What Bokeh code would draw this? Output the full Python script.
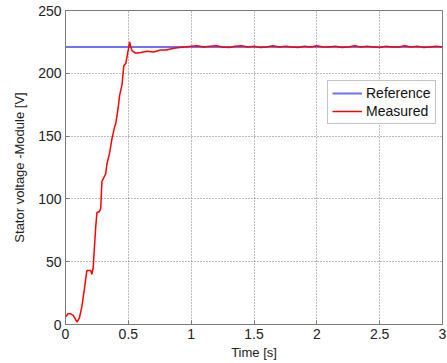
from bokeh.plotting import figure
from bokeh.models import Range1d, Legend, LegendItem, FixedTicker
from bokeh.embed import file_html
from bokeh.resources import INLINE

# Data
ref_t = [0.0, 3.0]
ref_v = [221, 221]

meas_t = [0.0, 0.02, 0.04, 0.06, 0.08, 0.093, 0.11, 0.13, 0.15, 0.17, 0.2, 0.21, 0.22, 0.24, 0.25,
          0.27, 0.28, 0.29, 0.305, 0.32, 0.33, 0.35, 0.37, 0.39, 0.4, 0.42, 0.43, 0.45, 0.464, 0.48,
          0.5, 0.51, 0.52, 0.53, 0.557, 0.6, 0.65, 0.7, 0.756, 0.8, 0.86, 0.91, 0.95,
          1.0, 1.05, 1.1, 1.15, 1.2, 1.25, 1.3, 1.35, 1.4, 1.45, 1.5, 1.55, 1.6, 1.65, 1.7, 1.75,
          1.8, 1.85, 1.9, 1.95, 2.0, 2.05, 2.1, 2.15, 2.2, 2.25, 2.3, 2.35, 2.4, 2.45, 2.5, 2.55,
          2.6, 2.65, 2.7, 2.75, 2.8, 2.85, 2.9, 2.95, 3.0]
meas_v = [6, 8.5, 8.5, 7.5, 4, 2, 5, 14, 28, 43, 43, 40, 45, 77, 89,
          90, 92, 114, 117, 120, 128, 136, 148, 157, 160, 173, 182, 191, 206, 208,
          219, 225, 221, 218, 216, 216.5, 217.5, 217, 218.5, 218.5, 220, 220.5, 221,
          221.5, 222, 221, 221.5, 222, 221, 220.5, 221.5, 222, 221, 221.5, 220.5, 221, 222, 221,
          221.5, 221, 220.5, 221.5, 221, 222, 221, 221, 221.5, 220.5, 221, 222, 221, 221.5, 221,
          220.5, 221.5, 221, 221, 222, 221, 221.5, 220.5, 221, 221.5, 221]

x_ticks = [0, 0.5, 1, 1.5, 2, 2.5, 3]
y_ticks = [0, 50, 100, 150, 200, 250]

p = figure(width=446, height=362, output_backend="svg", toolbar_location=None,
           x_range=Range1d(0, 3), y_range=Range1d(0, 250),
           min_border_left=65, min_border_right=4, min_border_top=10, min_border_bottom=38)

p.background_fill_color = "white"
p.border_fill_color = "white"
p.outline_line_color = "#7a7a7a"
p.outline_line_width = 1

for ax in (p.xaxis[0], p.yaxis[0]):
    ax.major_tick_in = 4
    ax.major_tick_out = 0
    ax.minor_tick_in = 0
    ax.minor_tick_out = 0
    ax.axis_line_color = "#7a7a7a"
    ax.major_tick_line_color = "#7a7a7a"
    ax.major_label_text_font = "Liberation Sans"
    ax.major_label_text_font_size = "14px"
    ax.major_label_text_color = "#222222"
    ax.axis_label_text_font = "Liberation Sans"
    ax.axis_label_text_font_size = "13px"
    ax.axis_label_text_font_style = "normal"
    ax.axis_label_text_color = "#222222"

p.xaxis.ticker = FixedTicker(ticks=x_ticks)
p.yaxis.ticker = FixedTicker(ticks=y_ticks)
p.xaxis.major_label_overrides = {0: "0", 0.5: "0.5", 1: "1", 1.5: "1.5", 2: "2", 2.5: "2.5", 3: "3"}
p.xaxis.axis_label = "Time [s]"
p.yaxis.axis_label = "Stator voltage -Module [V]"
p.xaxis.major_label_standoff = 4
p.yaxis.major_label_standoff = 4
p.xaxis.axis_label_standoff = 3
p.yaxis.axis_label_standoff = 8

for g in (p.xgrid[0], p.ygrid[0]):
    g.grid_line_color = "#555555"
    g.grid_line_dash = "1 2"
    g.grid_line_width = 1
    g.grid_line_alpha = 0.8

r_ref = p.line(ref_t, ref_v, line_color="#7070ff", line_width=2)
r_meas = p.line(meas_t, meas_v, line_color="#ff0000", line_width=1.5)

legend = Legend(items=[LegendItem(label="Reference", renderers=[r_ref]),
                       LegendItem(label="Measured", renderers=[r_meas])],
                location=(262, 200))
legend.label_text_font = "Liberation Sans"
legend.label_text_font_size = "14px"
legend.label_text_color = "#111111"
legend.border_line_color = "#888888"
legend.border_line_width = 1
legend.background_fill_color = "white"
legend.padding = 4
legend.spacing = 2
legend.margin = 0
legend.glyph_width = 30
legend.glyph_height = 16
legend.label_height = 16
legend.label_standoff = 4
p.add_layout(legend, "center")

open("out.html", "w").write(file_html(p, INLINE))
